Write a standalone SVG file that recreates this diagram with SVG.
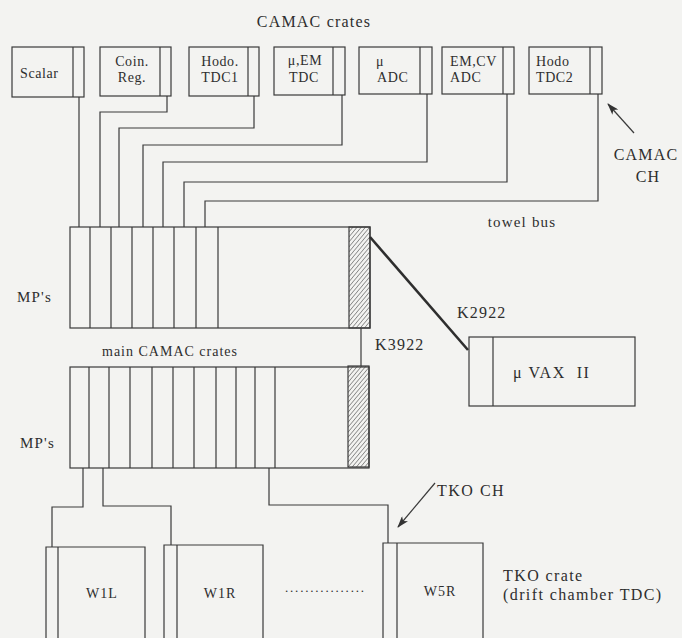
<svg xmlns="http://www.w3.org/2000/svg" width="682" height="638" viewBox="0 0 682 638">
<style>
.b{fill:none;stroke:#3a3a3a;stroke-width:1.2}
.c{fill:none;stroke:#3a3a3a;stroke-width:1.2}
.t{font-family:"Liberation Serif",serif;fill:#2e2e2e}
.bl{font-size:14px;letter-spacing:0.6px}
.lg{font-size:16px;letter-spacing:1.2px}
.w{font-size:14px;letter-spacing:1px}
</style>
<defs>
<pattern id="hatch" patternUnits="userSpaceOnUse" width="3.2" height="3.2" patternTransform="rotate(40)">
<line x1="0" y1="0" x2="0" y2="3.2" stroke="#444" stroke-width="1"/>
</pattern>
<marker id="ah" viewBox="0 0 12 8" refX="11" refY="4" markerWidth="12" markerHeight="8" markerUnits="userSpaceOnUse" orient="auto">
<path d="M0,0 L12,4 L0,8 L3,4 z" fill="#333"/>
</marker>
</defs>
<rect width="682" height="638" fill="#f3f3f1"/>

<text class="t lg" x="314" y="27" text-anchor="middle">CAMAC crates</text>

<g id="scalar">
<rect class="b" x="12" y="47" width="72" height="50"/>
<line class="b" x1="73" y1="47" x2="73" y2="97"/>
<text class="t bl" x="20" y="78">Scalar</text>
</g>
<g id="coin">
<rect class="b" x="100" y="47" width="71" height="49"/>
<line class="b" x1="160" y1="47" x2="160" y2="96"/>
<text class="t bl" x="132" y="66" text-anchor="middle">Coin.</text>
<text class="t bl" x="132" y="82" text-anchor="middle">Reg.</text>
</g>
<g id="hodo1">
<rect class="b" x="189" y="47" width="70" height="49"/>
<line class="b" x1="248" y1="47" x2="248" y2="96"/>
<text class="t bl" x="220" y="66" text-anchor="middle">Hodo.</text>
<text class="t bl" x="220" y="82" text-anchor="middle">TDC1</text>
</g>
<g id="muemtdc">
<rect class="b" x="274" y="47" width="71" height="48"/>
<line class="b" x1="333" y1="47" x2="333" y2="95"/>
<text class="t bl" x="305" y="65" text-anchor="middle">μ,EM</text>
<text class="t bl" x="304" y="82" text-anchor="middle">TDC</text>
</g>
<g id="muadc">
<rect class="b" x="359" y="47" width="73" height="47"/>
<line class="b" x1="420" y1="47" x2="420" y2="94"/>
<text class="t bl" x="376" y="66">μ</text>
<text class="t bl" x="377" y="82">ADC</text>
</g>
<g id="emcvadc">
<rect class="b" x="442" y="47" width="72" height="47"/>
<line class="b" x1="503" y1="47" x2="503" y2="94"/>
<text class="t bl" x="450" y="66">EM,CV</text>
<text class="t bl" x="450" y="82">ADC</text>
</g>
<g id="hodo2">
<rect class="b" x="529" y="47" width="73" height="47"/>
<line class="b" x1="590" y1="47" x2="590" y2="94"/>
<text class="t bl" x="536" y="66">Hodo</text>
<text class="t bl" x="536" y="82">TDC2</text>
</g>

<g id="camacch">
<text class="t lg" x="646" y="160" text-anchor="middle">CAMAC</text>
<text class="t lg" x="648" y="182" text-anchor="middle">CH</text>
</g>
<text class="t lg" x="522" y="227" text-anchor="middle" style="font-size:15px">towel bus</text>

<g id="mp1">
<rect class="b" x="70" y="227" width="300" height="101"/>
<line class="b" x1="90" y1="227" x2="90" y2="328"/>
<line class="b" x1="111" y1="227" x2="111" y2="328"/>
<line class="b" x1="132" y1="227" x2="132" y2="328"/>
<line class="b" x1="153" y1="227" x2="153" y2="328"/>
<line class="b" x1="174" y1="227" x2="174" y2="328"/>
<line class="b" x1="196" y1="227" x2="196" y2="328"/>
<line class="b" x1="218" y1="227" x2="218" y2="328"/>
<rect x="349" y="227" width="21" height="101" fill="url(#hatch)" stroke="#3a3a3a" stroke-width="1.2"/>
<text class="t lg" x="17" y="302" style="font-size:15px">MP's</text>
</g>

<text class="t" x="102" y="356" style="font-size:14px;letter-spacing:1px">main CAMAC crates</text>

<g id="mp2">
<rect class="b" x="70" y="367" width="299" height="101"/>
<line class="b" x1="89" y1="367" x2="89" y2="468"/>
<line class="b" x1="109" y1="367" x2="109" y2="468"/>
<line class="b" x1="130" y1="367" x2="130" y2="468"/>
<line class="b" x1="152" y1="367" x2="152" y2="468"/>
<line class="b" x1="173" y1="367" x2="173" y2="468"/>
<line class="b" x1="194" y1="367" x2="194" y2="468"/>
<line class="b" x1="216" y1="367" x2="216" y2="468"/>
<line class="b" x1="236" y1="367" x2="236" y2="468"/>
<line class="b" x1="255" y1="367" x2="255" y2="468"/>
<line class="b" x1="275" y1="367" x2="275" y2="468"/>
<rect x="348" y="366" width="21" height="101" fill="url(#hatch)" stroke="#3a3a3a" stroke-width="1.2"/>
<text class="t lg" x="20" y="448" style="font-size:15px">MP's</text>
</g>

<g id="uvax">
<rect class="b" x="469" y="337" width="166" height="69"/>
<line class="b" x1="493" y1="337" x2="493" y2="406"/>
<text class="t lg" x="513" y="378" xml:space="preserve" style="letter-spacing:1.5px">μ VAX  II</text>
</g>

<g id="w1l">
<path class="b" d="M46,640 V547 H145 V640"/>
<line class="b" x1="58" y1="547" x2="58" y2="640"/>
<text class="t w" x="102" y="598" text-anchor="middle">W1L</text>
</g>
<g id="w1r">
<path class="b" d="M164,640 V545 H263 V640"/>
<line class="b" x1="177" y1="545" x2="177" y2="640"/>
<text class="t w" x="220" y="598" text-anchor="middle">W1R</text>
</g>
<text class="t" x="285" y="592" style="font-size:13px;letter-spacing:1.8px">................</text>
<g id="w5r">
<path class="b" d="M383,640 V543 H483 V640"/>
<line class="b" x1="397" y1="543" x2="397" y2="640"/>
<text class="t w" x="440" y="596" text-anchor="middle">W5R</text>
</g>

<g id="tkocrate">
<text class="t lg" x="503" y="581" style="letter-spacing:1.4px">TKO crate</text>
<text class="t lg" x="503" y="600" style="letter-spacing:1.4px">(drift chamber TDC)</text>
</g>
<g id="tkoch">
<text class="t lg" x="437" y="496" style="letter-spacing:1.5px">TKO CH</text>
</g>

<g id="connectors">
<path class="c" d="M79,97 V227"/>
<path class="c" d="M167,96 V112 H100 V227"/>
<path class="c" d="M254,96 V128 H119 V227"/>
<path class="c" d="M342,95 V145 H143 V227"/>
<path class="c" d="M427,94 V162 H163 V227"/>
<path class="c" d="M507,94 V182 H184 V227"/>
<path class="c" d="M598,94 V201 H205 V227"/>
<line class="c" x1="361" y1="328" x2="361" y2="366"/>
<line x1="370" y1="237" x2="468" y2="350" stroke="#2e2e2e" stroke-width="2.6"/>
<path class="c" d="M83,468 V507 H52 V547"/>
<path class="c" d="M103,468 V506 H171 V545"/>
<path class="c" d="M269,468 V505 H388 V543"/>
<line class="c" x1="634" y1="133" x2="608" y2="104" marker-end="url(#ah)"/>
<line class="c" x1="435" y1="483" x2="398" y2="527" marker-end="url(#ah)"/>
</g>
<text class="t lg" x="457" y="318">K2922</text>
<text class="t lg" x="375" y="350">K3922</text>
</svg>
